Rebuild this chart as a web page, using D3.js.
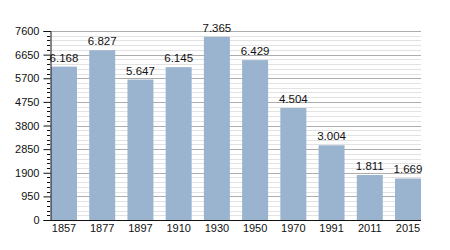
<!DOCTYPE html>
<html>
<head>
<meta charset="utf-8">
<script src="https://cdn.jsdelivr.net/npm/d3@7"></script>
<style>
  body { margin: 0; background: #fff; }
  text { font-family: "Liberation Sans", Arial, sans-serif; }
</style>
</head>
<body>
<div id="body"></div>
<script>
// data
var years = ['1857', '1877', '1897', '1910', '1930', '1950', '1970', '1991', '2011', '2015'];
var population = [6168, 6827, 5647, 6145, 7365, 6429, 4504, 3004, 1811, 1669];
var yTicks = [0, 950, 1900, 2850, 3800, 4750, 5700, 6650, 7600];

var W = 450, H = 250;
var plotLeft = 50, plotRight = 421, plotTop = 31, plotBottom = 220;

var svg = d3.select('#body')
    .append('svg')
    .attr('width', W)
    .attr('height', H);

var x = d3.scaleBand()
    .domain(years)
    .range([plotLeft + 1, plotRight])
    .paddingInner(0.32)
    .paddingOuter(0);

var y = d3.scaleLinear()
    .domain([0, 7600])
    .range([plotBottom, plotTop]);

// minor grid every 190
var minor = d3.range(0, 7601, 190).filter(function (v) { return v % 950 !== 0; });

svg.append('g').selectAll('line')
    .data(minor)
    .enter().append('line')
    .attr('x1', plotLeft).attr('x2', plotRight)
    .attr('y1', function (d) { return Math.round(y(d)) + 0.5; })
    .attr('y2', function (d) { return Math.round(y(d)) + 0.5; })
    .attr('stroke', '#e2e2e2');

svg.append('g').selectAll('line')
    .data(yTicks.slice(1))
    .enter().append('line')
    .attr('x1', plotLeft).attr('x2', plotRight)
    .attr('y1', function (d) { return Math.round(y(d)) + 0.5; })
    .attr('y2', function (d) { return Math.round(y(d)) + 0.5; })
    .attr('stroke', '#adadad');

// bars
svg.append('g').selectAll('rect')
    .data(population)
    .enter().append('rect')
    .attr('x', function (d, i) { return x(years[i]); })
    .attr('width', x.bandwidth())
    .attr('y', function (d) { return y(d); })
    .attr('height', function (d) { return plotBottom - y(d); })
    .attr('fill', '#9ab4cf');

// value labels
var fmt = function (v) { return d3.format(',')(v).replace(',', '.'); };
svg.append('g').selectAll('text')
    .data(population)
    .enter().append('text')
    .attr('x', function (d, i) { return x(years[i]) + x.bandwidth() / 2; })
    .attr('y', function (d) { return y(d) - 5; })
    .attr('text-anchor', 'middle')
    .attr('font-size', '11.5px')
    .attr('fill', '#111')
    .text(fmt);

// y axis
var yAxis = d3.axisLeft(y).tickValues(yTicks).tickFormat(d3.format('d')).tickSize(7).tickPadding(4);
var gy = svg.append('g')
    .attr('transform', 'translate(' + (plotLeft + 0.5) + ',0)')
    .call(yAxis);
gy.selectAll('text').attr('font-size', '11px').attr('fill', '#111')
    .attr('font-family', '"Liberation Sans", Arial, sans-serif');
gy.selectAll('line, path').attr('stroke', '#111');

svg.append('g').selectAll('line')
    .data(minor)
    .enter().append('line')
    .attr('x1', plotLeft - 3).attr('x2', plotLeft)
    .attr('y1', function (d) { return Math.round(y(d)) + 0.5; })
    .attr('y2', function (d) { return Math.round(y(d)) + 0.5; })
    .attr('stroke', '#111');

// x axis
var xAxis = d3.axisBottom(x).tickSize(0).tickPadding(4);
var gx = svg.append('g')
    .attr('transform', 'translate(0,' + (plotBottom + 0.5) + ')')
    .call(xAxis);
gx.select('.domain').attr('d', 'M' + plotLeft + ',0H' + plotRight).attr('stroke', '#111');
gx.selectAll('text').attr('font-size', '11px').attr('fill', '#111')
    .attr('font-family', '"Liberation Sans", Arial, sans-serif');
</script>
</body>
</html>
